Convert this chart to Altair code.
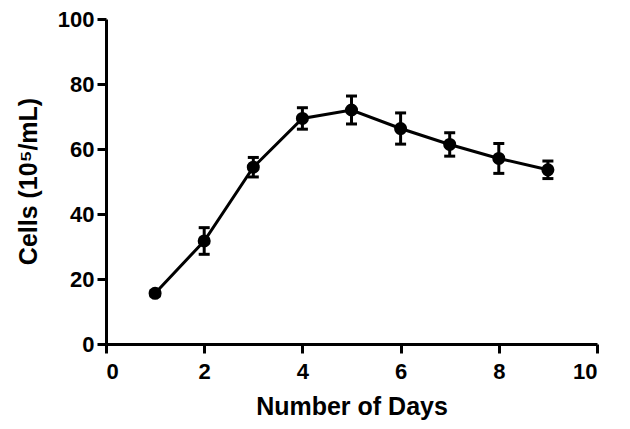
import altair as alt
import pandas as pd

days = [1, 2, 3, 4, 5, 6, 7, 8, 9]
means = [15.6, 31.7, 54.4, 69.4, 72.0, 66.3, 61.4, 57.1, 53.6]
errs = [0.8, 4.1, 3.0, 3.3, 4.3, 4.8, 3.6, 4.6, 2.7]

df = pd.DataFrame({"day": days, "mean": means, "err": errs})
df["lo"] = df["mean"] - df["err"]
df["hi"] = df["mean"] + df["err"]

FONT = "Liberation Sans"

x = alt.X("day:Q", scale=alt.Scale(domain=[0, 10], nice=False),
          axis=alt.Axis(values=[0, 2, 4, 6, 8, 10], title="Number of Days", labelPadding=8,
                        titleX=245.5, titleY=62, titleBaseline="middle", titleAlign="center"))
y = alt.Y("mean:Q", scale=alt.Scale(domain=[0, 100], nice=False),
          axis=alt.Axis(values=[0, 20, 40, 60, 80, 100], title="Cells (10⁵/mL)", labelPadding=3,
                        titleX=-78, titleY=162, titleBaseline="middle", titleAlign="center", titleAngle=-90))

base = alt.Chart(df)

line = base.mark_line(color="black", strokeWidth=3).encode(x=x, y=y)
rules = base.mark_rule(color="black", strokeWidth=3, opacity=1).encode(x="day:Q", y="lo:Q", y2="hi:Q")
cap_hi = base.mark_tick(color="black", orient="horizontal", size=11, thickness=3, opacity=1).encode(x="day:Q", y="hi:Q")
cap_lo = base.mark_tick(color="black", orient="horizontal", size=11, thickness=3, opacity=1).encode(x="day:Q", y="lo:Q")
pts = base.mark_point(filled=True, color="black", opacity=1, size=170, shape="circle").encode(x="day:Q", y="mean:Q")

chart = alt.layer(line, rules, cap_hi, cap_lo, pts).properties(
    width=491, height=325,
    autosize=alt.AutoSizeParams(type="none"),
    padding={"left": 98, "top": 11, "right": 25, "bottom": 77},
).configure_view(stroke=None).configure_axis(
    grid=False,
    domainColor="black", domainWidth=3,
    tickColor="black", tickWidth=3, tickSize=9,
    labelFont=FONT, labelFontSize=22, labelFontWeight="bold", labelColor="black",
    titleFont=FONT, titleFontSize=25, titleFontWeight="bold", titleColor="black",
)

chart.save("out.html", embed_options={"renderer": "svg", "actions": False})
